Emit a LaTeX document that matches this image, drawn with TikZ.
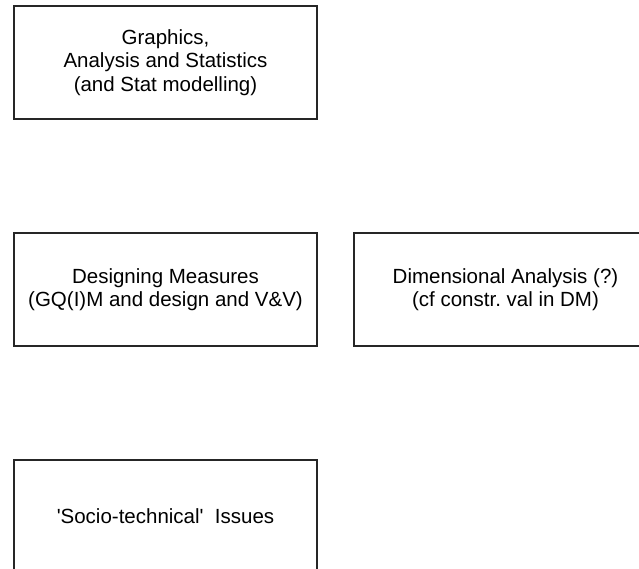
\documentclass[tikz,border=0pt]{standalone}
\usepackage{fontspec}
\setmainfont{Liberation Sans}
\usetikzlibrary{positioning}
\frenchspacing

\tikzset{
    topicbox/.style={draw=black!85, line width=1.2pt, rectangle, outer sep=0pt,
        minimum width=303pt, minimum height=113pt, align=center,
        font=\fontsize{20.5}{23.5}\selectfont}
}

\begin{document}
\begin{tikzpicture}[x=1pt, y=1pt, node distance=114pt and 37pt]
    \useasboundingbox (0,0) rectangle (639,-568);

    % Top row
    \node[topicbox] (graphics) at (165.5,-62.5) {Graphics,\\Analysis and Statistics\\(and Stat modelling)};

    % Middle row
    \node[topicbox, below=of graphics] (measures) {Designing Measures\\(GQ(I)M and design and V\&V)};
    \node[topicbox, right=of measures] (dimension) {Dimensional Analysis (?)\\(cf constr. val in DM)};

    % Bottom row
    \node[topicbox, below=of measures] (socio) {\textquotesingle Socio-technical\textquotesingle\ \ Issues};
\end{tikzpicture}
\end{document}
